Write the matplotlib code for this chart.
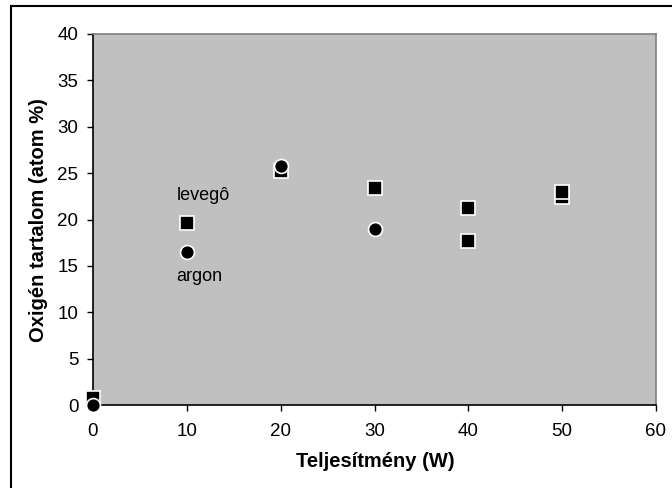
import matplotlib
matplotlib.use("Agg")
import matplotlib.pyplot as plt
from matplotlib.patches import Rectangle

plt.rcParams['font.family'] = ['Liberation Sans', 'DejaVu Sans']

power_lev = [0, 10, 20, 30, 40, 50]
oxy_lev = [0.8, 19.6, 25.2, 23.4, 21.2, 23.0]
power_ar_sq = [40, 50]
oxy_ar_sq = [17.7, 22.4]
power_ar = [0, 10, 20, 30]
oxy_ar = [0.0, 16.5, 25.8, 19.0]
xticks = [0, 10, 20, 30, 40, 50, 60]
yticks = [0, 5, 10, 15, 20, 25, 30, 35, 40]

W, H = 672, 488
fig = plt.figure(figsize=(W/100, H/100), dpi=100)
fig.patch.set_facecolor('white')
ax = fig.add_axes([93/W, (H-405)/H, (656-93)/W, (405-34)/H])
ax.set_facecolor('#C0C0C0')

ax.plot(power_ar_sq, oxy_ar_sq, 's', color='black', markersize=9.5,
        markeredgecolor='white', markeredgewidth=1.2, clip_on=False, zorder=3)
ax.plot(power_lev, oxy_lev, 's', color='black', markersize=9.5,
        markeredgecolor='white', markeredgewidth=1.2, clip_on=False, zorder=4)
ax.plot(power_ar, oxy_ar, 'o', color='black', markersize=10,
        markeredgecolor='white', markeredgewidth=1.2, clip_on=False, zorder=5)

ax.set_xlim(0, 60)
ax.set_ylim(0, 40)
ax.set_xticks(xticks)
ax.set_yticks(yticks)
ax.tick_params(direction='out', length=4.5, width=1, labelsize=13.5, colors='black')
ax.tick_params(axis='x', pad=8.5)
ax.tick_params(axis='y', pad=6)
for s in ['left', 'bottom']:
    ax.spines[s].set_color('black')
    ax.spines[s].set_linewidth(1.2)
for s in ['top', 'right']:
    ax.spines[s].set_color('#808080')
    ax.spines[s].set_linewidth(1.2)

fig.text(375/W, (H-467)/H, 'Teljesítmény (W)', fontsize=14.5, fontweight='bold',
         ha='center', va='baseline')
fig.text(39/W, (H-220)/H, 'Oxigén tartalom (atom %)', fontsize=14.5, fontweight='bold',
         ha='center', va='center', rotation=90)

ax.text(8.9, 22.1, 'levegô', fontsize=13, ha='left', va='baseline')
ax.text(8.9, 13.4, 'argon', fontsize=13, ha='left', va='baseline')

fig.add_artist(Rectangle((10.5/W, -0.05), 1.2, 1 - 6.5/H + 0.05,
                         transform=fig.transFigure, fill=False,
                         edgecolor='black', linewidth=1.5))

fig.savefig('out.png', dpi=100)
